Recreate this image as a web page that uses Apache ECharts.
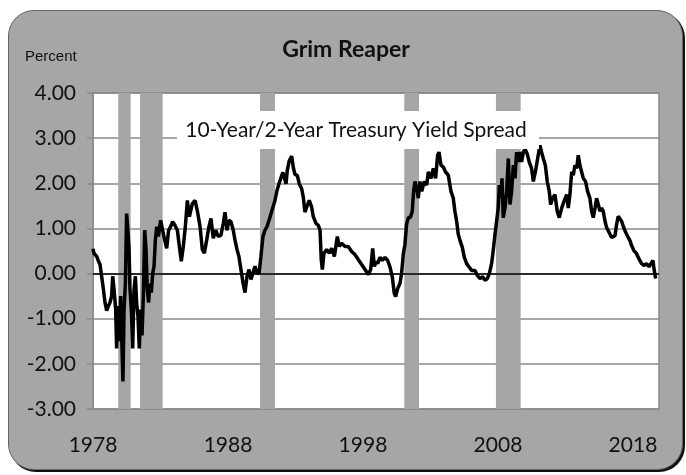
<!DOCTYPE html>
<html>
<head>
<meta charset="utf-8">
<script src="https://cdn.jsdelivr.net/npm/echarts@6/dist/echarts.min.js"></script>
<style>
  html, body { margin: 0; padding: 0; background: #fff; }
  #card {
    position: absolute; left: 8px; top: 10px; width: 675px; height: 460px;
    box-sizing: border-box; background: #a6a6a6; border: 1.5px solid #666;
    border-radius: 26px; box-shadow: 2px 2px 0 #111;
  }
  #chart { position: absolute; left: 0; top: 0; width: 686px; height: 475px; }
</style>
</head>
<body>
<div id="card"></div>
<div id="chart"></div>
<script>
  // x axis runs in years since 1978 so the ticks land on 1978, 1988, ...
  const baseYear = 1978
  const yTicks = [-3, -2, -1, 0, 1, 2, 3, 4]

  // recession shading (decimal years)
  const recessionStart = [1979.87, 1981.48, 1990.37, 2001.06, 2007.85]
  const recessionEnd = [1980.79, 1983.16, 1991.48, 2002.15, 2009.68]

  // 10-year minus 2-year spread, percent
  const spreadYears = [
    1978.00, 1978.07, 1978.27, 1978.40, 1978.52, 1978.64, 1978.77, 1978.89, 1979.01, 1979.14,
    1979.26, 1979.38, 1979.46, 1979.56, 1979.68, 1979.75, 1979.85, 1979.95, 1980.05, 1980.15,
    1980.22, 1980.30, 1980.40, 1980.49, 1980.57, 1980.67, 1980.74, 1980.84, 1980.94, 1981.04,
    1981.14, 1981.23, 1981.33, 1981.43, 1981.53, 1981.63, 1981.73, 1981.83, 1981.93, 1982.02,
    1982.12, 1982.22, 1982.32, 1982.42, 1982.52, 1982.62, 1982.72, 1982.84, 1983.01, 1983.16,
    1983.31, 1983.46, 1983.60, 1983.75, 1983.90, 1984.07, 1984.25, 1984.40, 1984.54, 1984.69,
    1984.84, 1984.99, 1985.14, 1985.19, 1985.36, 1985.56, 1985.75, 1985.93, 1986.10, 1986.25,
    1986.42, 1986.59, 1986.74, 1986.91, 1987.09, 1987.28, 1987.48, 1987.65, 1987.78, 1987.93,
    1988.07, 1988.22, 1988.39, 1988.52, 1988.67, 1988.81, 1988.96, 1989.11, 1989.26, 1989.41,
    1989.56, 1989.70, 1989.85, 1990.00, 1990.15, 1990.30, 1990.44, 1990.59, 1990.74, 1990.89,
    1991.04, 1991.19, 1991.33, 1991.48, 1991.63, 1991.78, 1991.93, 1992.07, 1992.15, 1992.30,
    1992.39, 1992.54, 1992.72, 1992.84, 1992.96, 1993.14, 1993.28, 1993.46, 1993.58, 1993.70,
    1993.83, 1994.02, 1994.20, 1994.32, 1994.52, 1994.69, 1994.82, 1994.91, 1994.99, 1995.11,
    1995.31, 1995.51, 1995.68, 1995.88, 1996.10, 1996.25, 1996.42, 1996.67, 1996.91, 1997.16,
    1997.41, 1997.65, 1997.90, 1998.15, 1998.40, 1998.57, 1998.72, 1998.84, 1999.01, 1999.09,
    1999.26, 1999.43, 1999.63, 1999.83, 2000.00, 2000.17, 2000.32, 2000.42, 2000.57, 2000.74,
    2000.86, 2000.99, 2001.11, 2001.23, 2001.36, 2001.51, 2001.65, 2001.75, 2001.85, 2001.98,
    2002.10, 2002.22, 2002.35, 2002.54, 2002.72, 2002.84, 2003.04, 2003.21, 2003.38, 2003.53,
    2003.63, 2003.78, 2003.95, 2004.12, 2004.32, 2004.52, 2004.69, 2004.81, 2004.94, 2005.06,
    2005.19, 2005.36, 2005.51, 2005.68, 2005.85, 2006.05, 2006.30, 2006.47, 2006.67, 2006.86,
    2007.04, 2007.21, 2007.36, 2007.53, 2007.65, 2007.78, 2007.90, 2008.02, 2008.10, 2008.20,
    2008.30, 2008.39, 2008.52, 2008.64, 2008.77, 2008.89, 2009.01, 2009.14, 2009.26, 2009.38,
    2009.51, 2009.63, 2009.75, 2009.88, 2010.00, 2010.17, 2010.32, 2010.49, 2010.62, 2010.77,
    2010.94, 2011.11, 2011.23, 2011.36, 2011.51, 2011.65, 2011.80, 2011.90, 2012.05, 2012.22,
    2012.39, 2012.54, 2012.72, 2012.89, 2013.09, 2013.21, 2013.33, 2013.46, 2013.58, 2013.70,
    2013.83, 2013.95, 2014.07, 2014.20, 2014.32, 2014.49, 2014.64, 2014.81, 2014.94, 2015.06,
    2015.19, 2015.31, 2015.43, 2015.56, 2015.68, 2015.80, 2015.93, 2016.05, 2016.17, 2016.30,
    2016.42, 2016.54, 2016.67, 2016.79, 2016.91, 2017.04, 2017.16, 2017.28, 2017.41, 2017.53,
    2017.65, 2017.78, 2017.90, 2018.07, 2018.27, 2018.44, 2018.64, 2018.84, 2019.01, 2019.19,
    2019.33, 2019.48, 2019.58, 2019.68
  ]
  const spreadValues = [
    0.55, 0.45, 0.38, 0.28, 0.20, -0.06, -0.35, -0.64, -0.82, -0.72,
    -0.64, -0.50, -0.06, -0.35, -0.79, -1.66, -0.72, -1.50, -0.50, -1.66,
    -2.39, -0.80, -0.20, 1.33, 1.04, 0.53, -0.35, -0.80, -1.66, -0.35,
    -0.06, -0.64, -0.94, -1.66, -0.80, -1.37, -0.50, 0.96, 0.53, -0.35,
    -0.64, -0.22, -0.42, 0.00, 0.16, 0.74, 1.04, 0.82, 1.18, 0.96,
    0.74, 0.56, 0.96, 1.04, 1.15, 1.07, 0.96, 0.60, 0.27, 0.60,
    1.04, 1.62, 1.26, 1.26, 1.55, 1.62, 1.36, 1.04, 0.53, 0.45,
    0.74, 1.04, 1.22, 0.78, 0.96, 0.82, 0.85, 1.11, 1.36, 0.96,
    1.18, 1.15, 0.96, 0.74, 0.53, 0.38, 0.09, -0.20, -0.42, -0.06,
    0.09, -0.13, 0.01, 0.16, 0.01, 0.00, 0.38, 0.82, 0.96, 1.04,
    1.18, 1.33, 1.47, 1.62, 1.84, 1.99, 2.13, 2.24, 2.20, 1.99,
    2.28, 2.50, 2.60, 2.35, 2.20, 2.17, 1.99, 1.88, 1.69, 1.36,
    1.47, 1.62, 1.47, 1.26, 1.11, 1.07, 0.96, 0.31, 0.09, 0.45,
    0.53, 0.45, 0.56, 0.38, 0.82, 0.60, 0.67, 0.60, 0.60, 0.49,
    0.42, 0.31, 0.20, 0.09, -0.02, 0.09, 0.56, 0.16, 0.27, 0.22,
    0.36, 0.29, 0.36, 0.29, 0.15, -0.07, -0.44, -0.51, -0.33, -0.22,
    0.00, 0.44, 0.65, 1.09, 1.24, 1.24, 1.38, 1.82, 2.04, 1.89,
    1.67, 2.04, 1.82, 2.04, 1.96, 2.25, 2.11, 2.33, 2.11, 2.62,
    2.69, 2.40, 2.36, 2.25, 2.18, 1.82, 1.67, 1.38, 1.16, 0.87,
    0.73, 0.58, 0.36, 0.22, 0.15, 0.07, 0.07, -0.04, -0.11, -0.07,
    -0.15, -0.11, 0.00, 0.22, 0.51, 0.87, 1.16, 1.45, 1.96, 1.67,
    2.11, 1.24, 1.45, 1.82, 2.55, 1.53, 1.82, 2.40, 2.11, 2.69,
    2.47, 2.69, 2.47, 2.69, 2.76, 2.65, 2.47, 2.33, 2.04, 2.25,
    2.55, 2.84, 2.69, 2.55, 2.40, 2.04, 1.82, 1.53, 1.67, 1.75,
    1.38, 1.24, 1.45, 1.60, 1.75, 1.45, 1.75, 2.25, 2.18, 2.40,
    2.33, 2.62, 2.40, 2.25, 2.11, 2.04, 1.82, 1.67, 1.38, 1.24,
    1.45, 1.67, 1.67, 1.38, 1.45, 1.38, 1.16, 1.02, 0.95, 0.87,
    0.80, 0.76, 0.84, 1.09, 1.27, 1.24, 1.16, 1.05, 0.95, 0.87,
    0.80, 0.73, 0.62, 0.51, 0.44, 0.33, 0.22, 0.18, 0.22, 0.15,
    0.22, 0.29, 0.07, -0.11
  ]

  const labelFont = 'Lato, "DejaVu Sans", sans-serif'
  const chart = echarts.init(document.getElementById('chart'))

  const option = {
    animation: false,
    backgroundColor: 'transparent',
    grid: {
      left: 93,
      top: 93,
      width: 566,
      height: 316,
      show: true,
      backgroundColor: '#fff',
      borderColor: '#8a8a8a',
      borderWidth: 1.5,
    },
    graphic: [
      {
        type: 'text',
        left: 25,
        top: 49,
        style: { text: 'Percent', font: '15px "Liberation Sans", Arial, sans-serif', fill: '#111' },
      },
      {
        type: 'text',
        x: 346,
        y: 50,
        style: {
          text: 'Grim Reaper',
          font: 'bold 23px ' + labelFont,
          fill: '#111',
          align: 'center',
          verticalAlign: 'middle',
        },
      },
      {
        type: 'rect',
        z: 100,
        shape: { x: 177, y: 111, width: 362, height: 38 },
        style: { fill: '#fff' },
      },
      {
        type: 'text',
        z: 101,
        x: 356,
        y: 130,
        style: {
          text: '10-Year/2-Year Treasury Yield Spread',
          font: '21px ' + labelFont,
          fill: '#111',
          align: 'center',
          verticalAlign: 'middle',
        },
      },
    ],
    xAxis: {
      type: 'value',
      min: 0,
      max: 41.93,
      interval: 10,
      axisLine: { show: false, onZero: false },
      axisTick: { show: false },
      splitLine: { show: false },
      axisLabel: {
        margin: 26,
        fontFamily: labelFont,
        fontSize: 21,
        color: '#111',
        formatter: (v) => (v % 10 === 0 ? String(baseYear + v) : ''),
      },
    },
    yAxis: {
      type: 'value',
      min: yTicks[0],
      max: yTicks[yTicks.length - 1],
      interval: 1,
      axisLine: { show: true, lineStyle: { color: '#8a8a8a', width: 1.5 } },
      axisTick: { show: true, length: 6, lineStyle: { color: '#8a8a8a', width: 1.5 } },
      splitLine: { show: true, lineStyle: { color: '#8a8a8a', width: 1.5 } },
      axisLabel: {
        margin: 17,
        padding: [6, 0, 0, 0],
        fontFamily: labelFont,
        fontSize: 21,
        color: '#111',
        formatter: (v) => v.toFixed(2),
      },
    },
    series: [
      {
        type: 'line',
        name: 'Spread',
        data: spreadYears.map((y, i) => [y - baseYear, spreadValues[i]]),
        showSymbol: false,
        lineStyle: { color: '#000', width: 3.5 },
        clip: true,
        markArea: {
          silent: true,
          itemStyle: { color: '#a6a6a6', opacity: 1 },
          data: recessionStart.map((s, i) => [
            { xAxis: s - baseYear },
            { xAxis: recessionEnd[i] - baseYear },
          ]),
        },
        markLine: {
          silent: true,
          symbol: 'none',
          label: { show: false },
          lineStyle: { color: '#000', width: 1.5, type: 'solid' },
          data: [{ yAxis: 0 }],
        },
      },
    ],
  }

  chart.setOption(option)
</script>
</body>
</html>
